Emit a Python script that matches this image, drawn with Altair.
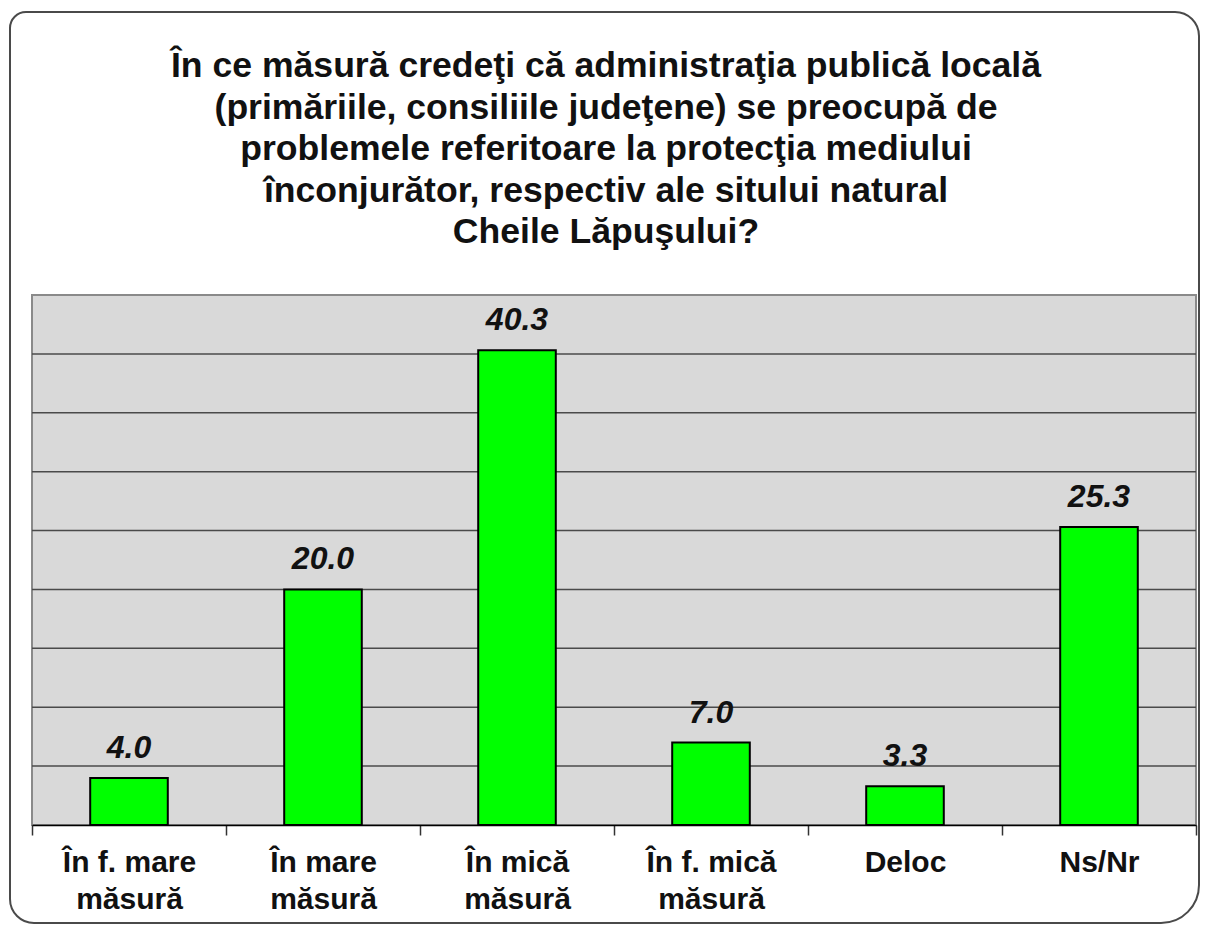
import altair as alt
import pandas as pd

# ---- data ----
categories = ["În f. mare măsură", "În mare măsură", "În mică măsură",
              "În f. mică măsură", "Deloc", "Ns/Nr"]
values = [4.0, 20.0, 40.3, 7.0, 3.3, 25.3]
grid_values = [5, 10, 15, 20, 25, 30, 35, 40]
title_lines = [
    "În ce măsură credeţi că administraţia publică locală",
    "(primăriile, consiliile judeţene) se preocupă de",
    "problemele referitoare la protecţia mediului",
    "înconjurător, respectiv ale sitului natural",
    "Cheile Lăpuşului?",
]

FONT = "Liberation Sans, Arial, sans-serif"
W, H = 1164, 530

df = pd.DataFrame({"cat": categories, "val": values})
grid_df = pd.DataFrame({"v": grid_values})
frame_df = pd.DataFrame({"k": ["frame"]})
title_df = pd.DataFrame({"t": ["\n".join(title_lines)]})

yscale = alt.Scale(domain=[0, 45], nice=False, zero=True)

# decorative rounded white panel around the whole slide
panel = alt.Chart(frame_df).mark_rect(
    fill="#ffffff", stroke="#4a4a4a", strokeWidth=2, opacity=1,
    cornerRadiusTopLeft=16, cornerRadiusTopRight=24,
    cornerRadiusBottomLeft=24, cornerRadiusBottomRight=38,
).encode(x=alt.value(-22), x2=alt.value(1167), y=alt.value(-283), y2=alt.value(628))

# plot-area background
plotbg = alt.Chart(frame_df).mark_rect(
    fill="#d9d9d9", stroke="#8a8a8a", strokeWidth=2, opacity=1
).encode(x=alt.value(0), x2=alt.value(W), y=alt.value(0), y2=alt.value(H))

title = alt.Chart(title_df).mark_text(
    font=FONT, fontSize=35.6, fontWeight="bold", color="#111111",
    lineBreak="\n", lineHeight=41.5, align="center", baseline="alphabetic",
).encode(x=alt.value(574), y=alt.value(-218), text="t:N")

grid = alt.Chart(grid_df).mark_rule(color="#4a4a4a", strokeWidth=1.5).encode(
    y=alt.Y("v:Q", scale=yscale, axis=None)
)

xenc = alt.X(
    "cat:N", sort=categories,
    scale=alt.Scale(paddingInner=0, paddingOuter=0),
    axis=alt.Axis(
        title=None, labelAngle=0, grid=False, zindex=1,
        domainColor="#000000", domainWidth=1.5,
        tickColor="#333333", tickWidth=1.5, tickSize=10, tickBand="extent",
        labelFont=FONT, labelFontSize=30, labelFontWeight="bold",
        labelColor="#111111", labelPadding=12, labelLineHeight=37,
        labelLimit=0,
        labelExpr="indexof(datum.label, ' măsură') > 0 ? [replace(datum.label, ' măsură', ''), 'măsură'] : datum.label",
    ),
)

bars = alt.Chart(df).mark_bar(
    color="#00ff00", stroke="#000000", strokeWidth=2,
    width=alt.RelativeBandSize(0.4),
).encode(x=xenc, y=alt.Y("val:Q", scale=yscale, axis=None))

labels = alt.Chart(df).mark_text(
    font=FONT, fontSize=32, fontWeight="bold", fontStyle="italic",
    color="#111111", baseline="alphabetic", dy=-20,
).encode(
    x=alt.X("cat:N", sort=categories),
    y=alt.Y("val:Q", scale=yscale, axis=None),
    text=alt.Text("val:Q", format=".1f"),
)

chart = alt.layer(panel, plotbg, title, grid, bars, labels).properties(
    width=W, height=H,
    padding={"left": 24, "top": 287, "right": 4, "bottom": 100},
    autosize=alt.AutoSizeParams(type="none"),
    background="#ffffff",
).configure_view(stroke=None)

chart.save("out.html", embed_options={"renderer": "svg", "actions": False})
